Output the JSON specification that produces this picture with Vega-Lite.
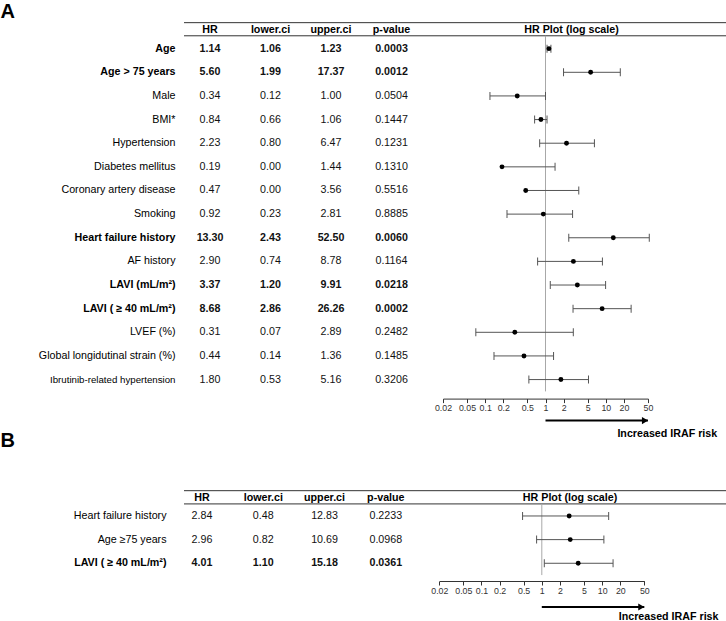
{
  "$schema": "https://vega.github.io/schema/vega-lite/v6.json",
  "padding": {"left": 0, "top": 1, "right": 0, "bottom": 0},
  "bounds": "flush",
  "spacing": 75.6,
  "config": {"view": {"stroke": null}, "font": "Liberation Sans"},
  "datasets": {
    "A": [
      {"variable": "Age", "hr": 1.14, "lo": 1.06, "hi": 1.23, "p": 0.0003},
      {"variable": "Age > 75 years", "hr": 5.60, "lo": 1.99, "hi": 17.37, "p": 0.0012},
      {"variable": "Male", "hr": 0.34, "lo": 0.12, "hi": 1.00, "p": 0.0504},
      {"variable": "BMI*", "hr": 0.84, "lo": 0.66, "hi": 1.06, "p": 0.1447},
      {"variable": "Hypertension", "hr": 2.23, "lo": 0.80, "hi": 6.47, "p": 0.1231},
      {"variable": "Diabetes mellitus", "hr": 0.19, "lo": 0.00, "hi": 1.44, "p": 0.1310},
      {"variable": "Coronary artery disease", "hr": 0.47, "lo": 0.00, "hi": 3.56, "p": 0.5516},
      {"variable": "Smoking", "hr": 0.92, "lo": 0.23, "hi": 2.81, "p": 0.8885},
      {"variable": "Heart failure history", "hr": 13.30, "lo": 2.43, "hi": 52.50, "p": 0.0060},
      {"variable": "AF history", "hr": 2.90, "lo": 0.74, "hi": 8.78, "p": 0.1164},
      {"variable": "LAVI (mL/m²)", "hr": 3.37, "lo": 1.20, "hi": 9.91, "p": 0.0218},
      {"variable": "LAVI ( ≥ 40 mL/m²)", "hr": 8.68, "lo": 2.86, "hi": 26.26, "p": 0.0002},
      {"variable": "LVEF (%)", "hr": 0.31, "lo": 0.07, "hi": 2.89, "p": 0.2482},
      {"variable": "Global longidutinal strain (%)", "hr": 0.44, "lo": 0.14, "hi": 1.36, "p": 0.1485},
      {"variable": "Ibrutinib-related hypertension", "hr": 1.80, "lo": 0.53, "hi": 5.16, "p": 0.3206}
    ],
    "B": [
      {"variable": "Heart failure history", "hr": 2.84, "lo": 0.48, "hi": 12.83, "p": 0.2233},
      {"variable": "Age ≥75 years", "hr": 2.96, "lo": 0.82, "hi": 10.69, "p": 0.0968},
      {"variable": "LAVI ( ≥ 40 mL/m²)", "hr": 4.01, "lo": 1.10, "hi": 15.18, "p": 0.0361}
    ],
    "headers": [{"col": "HR"}, {"col": "lower.ci"}, {"col": "upper.ci"}, {"col": "p-value"}],
    "plotHeader": [{"h": "HR Plot (log scale)"}],
    "one": [{}]
  },
  "vconcat": [
    {
      "width": 542, "height": 392.6,
      "data": {"name": "A"},
      "encoding": {
        "y": {
          "field": "variable", "type": "nominal",
          "scale": {"type": "band", "paddingInner": 0, "paddingOuter": 0.305,
            "domain": [" ", "Age", "Age > 75 years", "Male", "BMI*", "Hypertension", "Diabetes mellitus", "Coronary artery disease", "Smoking", "Heart failure history", "AF history", "LAVI (mL/m²)", "LAVI ( ≥ 40 mL/m²)", "LVEF (%)", "Global longidutinal strain (%)", "Ibrutinib-related hypertension"]},
          "axis": {
            "title": "A", "titleAngle": 0, "titleX": -184, "titleY": 11.55, "titleAlign": "left", "titleBaseline": "alphabetic",
            "titleFontSize": 20, "titleFontWeight": "bold", "titleColor": "#000", "titleFont": "Liberation Sans",
            "domain": false, "ticks": false, "grid": false, "labelPadding": 9, "labelLimit": 0,
            "labelColor": "#000", "labelFont": "Liberation Sans",
            "labelFontSize": {"condition": {"test": "datum.value === 'Ibrutinib-related hypertension'", "value": 9.7}, "value": 10.7},
            "labelFontWeight": {"condition": {"test": "indexof(['Age','Age > 75 years','Heart failure history','LAVI (mL/m²)','LAVI ( ≥ 40 mL/m²)'], datum.value) >= 0", "value": "bold"}, "value": "normal"}
          }
        }
      },
      "layer": [
        {
          "mark": {"type": "text", "fontSize": 10.7, "color": "#111", "fontWeight": {"expr": "datum.p < 0.05 ? 'bold' : 'normal'"}},
          "encoding": {"x": {"datum": "HR", "type": "nominal", "scale": {"type": "point", "domain": ["HR", "lower.ci", "upper.ci", "p-value"], "range": [26, 207.5], "padding": 0}, "axis": null}, "text": {"field": "hr", "type": "quantitative", "format": ".2f"}}
        },
        {
          "mark": {"type": "text", "fontSize": 10.7, "color": "#111", "fontWeight": {"expr": "datum.p < 0.05 ? 'bold' : 'normal'"}},
          "encoding": {"x": {"datum": "lower.ci", "type": "nominal", "scale": {"type": "point", "domain": ["HR", "lower.ci", "upper.ci", "p-value"], "range": [26, 207.5], "padding": 0}, "axis": null}, "text": {"field": "lo", "type": "quantitative", "format": ".2f"}}
        },
        {
          "mark": {"type": "text", "fontSize": 10.7, "color": "#111", "fontWeight": {"expr": "datum.p < 0.05 ? 'bold' : 'normal'"}},
          "encoding": {"x": {"datum": "upper.ci", "type": "nominal", "scale": {"type": "point", "domain": ["HR", "lower.ci", "upper.ci", "p-value"], "range": [26, 207.5], "padding": 0}, "axis": null}, "text": {"field": "hi", "type": "quantitative", "format": ".2f"}}
        },
        {
          "mark": {"type": "text", "fontSize": 10.7, "color": "#111", "fontWeight": {"expr": "datum.p < 0.05 ? 'bold' : 'normal'"}},
          "encoding": {"x": {"datum": "p-value", "type": "nominal", "scale": {"type": "point", "domain": ["HR", "lower.ci", "upper.ci", "p-value"], "range": [26, 207.5], "padding": 0}, "axis": null}, "text": {"field": "p", "type": "quantitative", "format": ".4f"}}
        },
        {
          "data": {"name": "headers"},
          "mark": {"type": "text", "fontWeight": "bold", "fontSize": 10.7, "color": "#000"},
          "encoding": {
            "x": {"field": "col", "type": "nominal", "scale": {"type": "point", "domain": ["HR", "lower.ci", "upper.ci", "p-value"], "range": [26, 207.5], "padding": 0}, "axis": null},
            "y": {"datum": " ", "type": "nominal", "bandPosition": 0.696},
            "text": {"field": "col", "type": "nominal"}
          }
        },
        {
          "data": {"name": "one"},
          "mark": {"type": "rule", "color": "#333", "strokeWidth": 1},
          "encoding": {"y": {"datum": " ", "type": "nominal", "bandPosition": 0.40}}
        },
        {
          "data": {"name": "one"},
          "mark": {"type": "rule", "color": "#333", "strokeWidth": 1},
          "encoding": {"y": {"datum": " ", "type": "nominal", "bandPosition": 0.955}}
        },
        {
          "data": {"name": "plotHeader"},
          "mark": {"type": "text", "fontWeight": "bold", "fontSize": 10.7, "color": "#000"},
          "encoding": {
            "x": {"datum": 2.7, "type": "quantitative", "scale": {"type": "log", "domain": [0.02, 50], "range": [259, 464], "nice": false}, "axis": null},
            "y": {"datum": " ", "type": "nominal", "bandPosition": 0.696},
            "text": {"field": "h", "type": "nominal"}
          }
        },
        {
          "data": {"name": "one"},
          "mark": {"type": "rule", "color": "#a8a8a8", "strokeWidth": 1},
          "encoding": {
            "x": {"datum": 1, "type": "quantitative", "scale": {"type": "log", "domain": [0.02, 50], "range": [259, 464], "nice": false}, "axis": null},
            "y": {"datum": " ", "type": "nominal", "bandPosition": 0.955},
            "y2": {"datum": "Ibrutinib-related hypertension", "bandPosition": 1}
          }
        },
        {
          "transform": [{"filter": "datum.lo > 0"}],
          "mark": {"type": "rule", "color": "#555", "strokeWidth": 1},
          "encoding": {"x": {"field": "lo", "type": "quantitative", "scale": {"type": "log", "domain": [0.02, 50], "range": [259, 464], "nice": false}, "axis": null}, "x2": {"field": "hr"}}
        },
        {
          "mark": {"type": "rule", "color": "#555", "strokeWidth": 1},
          "encoding": {"x": {"field": "hr", "type": "quantitative", "scale": {"type": "log", "domain": [0.02, 50], "range": [259, 464], "nice": false}, "axis": null}, "x2": {"field": "hi"}}
        },
        {
          "transform": [{"filter": "datum.lo > 0"}],
          "mark": {"type": "tick", "color": "#555", "thickness": 1, "size": 8, "opacity": 1},
          "encoding": {"x": {"field": "lo", "type": "quantitative", "scale": {"type": "log", "domain": [0.02, 50], "range": [259, 464], "nice": false}, "axis": null}}
        },
        {
          "mark": {"type": "tick", "color": "#555", "thickness": 1, "size": 8, "opacity": 1},
          "encoding": {"x": {"field": "hi", "type": "quantitative", "scale": {"type": "log", "domain": [0.02, 50], "range": [259, 464], "nice": false}, "axis": null}}
        },
        {
          "mark": {"type": "point", "filled": true, "color": "#000", "opacity": 1, "size": 24},
          "encoding": {
            "x": {
              "field": "hr", "type": "quantitative",
              "scale": {"type": "log", "domain": [0.02, 50], "range": [259, 464], "nice": false},
              "axis": {
                "values": [0.02, 0.05, 0.1, 0.2, 0.5, 1, 2, 5, 10, 20, 50], "format": "~g",
                "grid": false, "tickSize": 4, "labelPadding": 1, "labelFontSize": 8.8, "labelColor": "#333", "labelFont": "Liberation Sans",
                "domainColor": "#333", "tickColor": "#333", "labelOverlap": false, "labelFlush": false, "labelBound": false,
                "title": "Increased IRAF risk", "titleX": 532.7, "titleY": 35, "titleAlign": "right", "titleBaseline": "middle",
                "titleFontSize": 10.7, "titleFontWeight": "bold", "titleColor": "#000", "titleFont": "Liberation Sans"
              }
            }
          }
        },
        {
          "data": {"name": "one"},
          "mark": {"type": "rule", "color": "#000", "strokeWidth": 2, "yOffset": 22},
          "encoding": {"x": {"datum": 1, "type": "quantitative", "scale": {"type": "log", "domain": [0.02, 50], "range": [259, 464], "nice": false}, "axis": null}, "x2": {"datum": 50}, "y": {"value": "height"}}
        },
        {
          "data": {"name": "one"},
          "mark": {"type": "point", "shape": "triangle-right", "filled": true, "color": "#000", "opacity": 1, "size": 50, "yOffset": 22, "xOffset": -3},
          "encoding": {"x": {"datum": 50, "type": "quantitative", "scale": {"type": "log", "domain": [0.02, 50], "range": [259, 464], "nice": false}, "axis": null}, "y": {"value": "height"}}
        }
      ],
      "resolve": {"scale": {"x": "independent"}}
    },
    {
      "width": 542, "height": 106.4,
      "data": {"name": "B"},
      "encoding": {
        "y": {
          "field": "variable", "type": "nominal",
          "scale": {"type": "band", "paddingInner": 0, "paddingOuter": 0.25,
            "domain": [" ", "Heart failure history", "Age ≥75 years", "LAVI ( ≥ 40 mL/m²)"]},
          "axis": {
            "title": "B", "titleAngle": 0, "titleX": -184, "titleY": -27.9, "titleAlign": "left", "titleBaseline": "alphabetic",
            "titleFontSize": 20, "titleFontWeight": "bold", "titleColor": "#000", "titleFont": "Liberation Sans",
            "domain": false, "ticks": false, "grid": false, "labelPadding": 18, "labelLimit": 0,
            "labelColor": "#000", "labelFont": "Liberation Sans", "labelFontSize": 10.7,
            "labelFontWeight": {"condition": {"test": "datum.value === 'LAVI ( ≥ 40 mL/m²)'", "value": "bold"}, "value": "normal"}
          }
        }
      },
      "layer": [
        {
          "mark": {"type": "text", "fontSize": 10.7, "color": "#111", "fontWeight": {"expr": "datum.p < 0.05 ? 'bold' : 'normal'"}},
          "encoding": {"x": {"datum": "HR", "type": "nominal", "scale": {"type": "point", "domain": ["HR", "lower.ci", "upper.ci", "p-value"], "range": [18, 201.8], "padding": 0}, "axis": null}, "text": {"field": "hr", "type": "quantitative", "format": ".2f"}}
        },
        {
          "mark": {"type": "text", "fontSize": 10.7, "color": "#111", "fontWeight": {"expr": "datum.p < 0.05 ? 'bold' : 'normal'"}},
          "encoding": {"x": {"datum": "lower.ci", "type": "nominal", "scale": {"type": "point", "domain": ["HR", "lower.ci", "upper.ci", "p-value"], "range": [18, 201.8], "padding": 0}, "axis": null}, "text": {"field": "lo", "type": "quantitative", "format": ".2f"}}
        },
        {
          "mark": {"type": "text", "fontSize": 10.7, "color": "#111", "fontWeight": {"expr": "datum.p < 0.05 ? 'bold' : 'normal'"}},
          "encoding": {"x": {"datum": "upper.ci", "type": "nominal", "scale": {"type": "point", "domain": ["HR", "lower.ci", "upper.ci", "p-value"], "range": [18, 201.8], "padding": 0}, "axis": null}, "text": {"field": "hi", "type": "quantitative", "format": ".2f"}}
        },
        {
          "mark": {"type": "text", "fontSize": 10.7, "color": "#111", "fontWeight": {"expr": "datum.p < 0.05 ? 'bold' : 'normal'"}},
          "encoding": {"x": {"datum": "p-value", "type": "nominal", "scale": {"type": "point", "domain": ["HR", "lower.ci", "upper.ci", "p-value"], "range": [18, 201.8], "padding": 0}, "axis": null}, "text": {"field": "p", "type": "quantitative", "format": ".4f"}}
        },
        {
          "data": {"name": "headers"},
          "mark": {"type": "text", "fontWeight": "bold", "fontSize": 10.7, "color": "#000"},
          "encoding": {
            "x": {"field": "col", "type": "nominal", "scale": {"type": "point", "domain": ["HR", "lower.ci", "upper.ci", "p-value"], "range": [18, 201.8], "padding": 0}, "axis": null},
            "y": {"datum": " ", "type": "nominal", "bandPosition": 0.753},
            "text": {"field": "col", "type": "nominal"}
          }
        },
        {
          "data": {"name": "one"},
          "mark": {"type": "rule", "color": "#333", "strokeWidth": 1},
          "encoding": {"y": {"datum": " ", "type": "nominal", "bandPosition": 0.43}}
        },
        {
          "data": {"name": "one"},
          "mark": {"type": "rule", "color": "#333", "strokeWidth": 1},
          "encoding": {"y": {"datum": " ", "type": "nominal", "bandPosition": 0.99}}
        },
        {
          "data": {"name": "plotHeader"},
          "mark": {"type": "text", "fontWeight": "bold", "fontSize": 10.7, "color": "#000"},
          "encoding": {
            "x": {"datum": 2.94, "type": "quantitative", "scale": {"type": "log", "domain": [0.02, 50], "range": [255.3, 460.3], "nice": false}, "axis": null},
            "y": {"datum": " ", "type": "nominal", "bandPosition": 0.753},
            "text": {"field": "h", "type": "nominal"}
          }
        },
        {
          "data": {"name": "one"},
          "mark": {"type": "rule", "color": "#a8a8a8", "strokeWidth": 1},
          "encoding": {
            "x": {"datum": 1, "type": "quantitative", "scale": {"type": "log", "domain": [0.02, 50], "range": [255.3, 460.3], "nice": false}, "axis": null},
            "y": {"datum": " ", "type": "nominal", "bandPosition": 0.99},
            "y2": {"datum": "LAVI ( ≥ 40 mL/m²)", "bandPosition": 1}
          }
        },
        {
          "transform": [{"filter": "datum.lo > 0"}],
          "mark": {"type": "rule", "color": "#555", "strokeWidth": 1},
          "encoding": {"x": {"field": "lo", "type": "quantitative", "scale": {"type": "log", "domain": [0.02, 50], "range": [255.3, 460.3], "nice": false}, "axis": null}, "x2": {"field": "hr"}}
        },
        {
          "mark": {"type": "rule", "color": "#555", "strokeWidth": 1},
          "encoding": {"x": {"field": "hr", "type": "quantitative", "scale": {"type": "log", "domain": [0.02, 50], "range": [255.3, 460.3], "nice": false}, "axis": null}, "x2": {"field": "hi"}}
        },
        {
          "transform": [{"filter": "datum.lo > 0"}],
          "mark": {"type": "tick", "color": "#555", "thickness": 1, "size": 8, "opacity": 1},
          "encoding": {"x": {"field": "lo", "type": "quantitative", "scale": {"type": "log", "domain": [0.02, 50], "range": [255.3, 460.3], "nice": false}, "axis": null}}
        },
        {
          "mark": {"type": "tick", "color": "#555", "thickness": 1, "size": 8, "opacity": 1},
          "encoding": {"x": {"field": "hi", "type": "quantitative", "scale": {"type": "log", "domain": [0.02, 50], "range": [255.3, 460.3], "nice": false}, "axis": null}}
        },
        {
          "mark": {"type": "point", "filled": true, "color": "#000", "opacity": 1, "size": 24},
          "encoding": {
            "x": {
              "field": "hr", "type": "quantitative",
              "scale": {"type": "log", "domain": [0.02, 50], "range": [255.3, 460.3], "nice": false},
              "axis": {
                "values": [0.02, 0.05, 0.1, 0.2, 0.5, 1, 2, 5, 10, 20, 50], "format": "~g",
                "grid": false, "tickSize": 4, "labelPadding": 1, "labelFontSize": 8.8, "labelColor": "#333", "labelFont": "Liberation Sans",
                "domainColor": "#333", "tickColor": "#333", "labelOverlap": false, "labelFlush": false, "labelBound": false,
                "title": "Increased IRAF risk", "titleX": 534, "titleY": 35.3, "titleAlign": "right", "titleBaseline": "middle",
                "titleFontSize": 10.7, "titleFontWeight": "bold", "titleColor": "#000", "titleFont": "Liberation Sans"
              }
            }
          }
        },
        {
          "data": {"name": "one"},
          "mark": {"type": "rule", "color": "#000", "strokeWidth": 2, "yOffset": 26},
          "encoding": {"x": {"datum": 1, "type": "quantitative", "scale": {"type": "log", "domain": [0.02, 50], "range": [255.3, 460.3], "nice": false}, "axis": null}, "x2": {"datum": 50}, "y": {"value": "height"}}
        },
        {
          "data": {"name": "one"},
          "mark": {"type": "point", "shape": "triangle-right", "filled": true, "color": "#000", "opacity": 1, "size": 50, "yOffset": 26, "xOffset": -3},
          "encoding": {"x": {"datum": 50, "type": "quantitative", "scale": {"type": "log", "domain": [0.02, 50], "range": [255.3, 460.3], "nice": false}, "axis": null}, "y": {"value": "height"}}
        }
      ],
      "resolve": {"scale": {"x": "independent"}}
    }
  ]
}
